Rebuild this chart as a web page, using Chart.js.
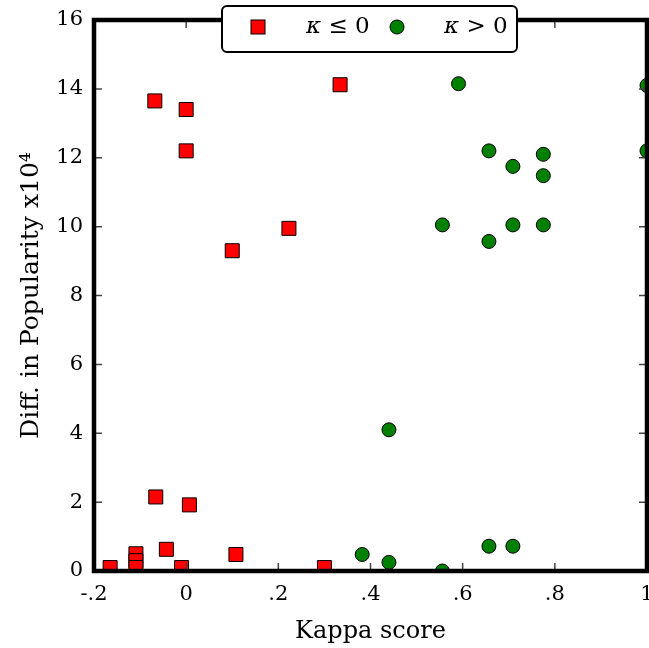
<!DOCTYPE html>
<html>
<head>
<meta charset="utf-8">
<script src="https://cdn.jsdelivr.net/npm/chart.js@4.4.1/dist/chart.umd.min.js"></script>
<style>
  html, body { margin: 0; padding: 0; background: #fff; }
  #wrap { width: 649px; height: 648px; }
</style>
</head>
<body>
<div id="wrap"><canvas id="myChart" width="649" height="648"></canvas></div>
<script>
// kappa <= 0 group (red squares)
const lowKappa = [-0.068, 0.0, 0.0, 0.334, 0.1, 0.223, -0.066, 0.007, -0.165, -0.109, -0.109, -0.109, -0.043, -0.01, 0.108, 0.30];
const lowDiff = [13.65, 13.4, 12.2, 14.12, 9.3, 9.95, 2.15, 1.92, 0.1, 0.5, 0.3, 0.1, 0.63, 0.1, 0.48, 0.1];

// kappa > 0 group (green circles)
const highKappa = [0.591, 1.0, 0.657, 0.709, 0.775, 0.775, 1.0, 0.556, 0.709, 0.775, 0.657, 0.44, 0.382, 0.44, 0.556, 0.657, 0.709];
const highDiff = [14.15, 14.1, 12.2, 11.75, 12.1, 11.48, 12.2, 10.05, 10.05, 10.05, 9.57, 4.1, 0.48, 0.25, 0.0, 0.72, 0.72];

const xTickLabels = ["-.2", "0", ".2", ".4", ".6", ".8", "1"];
const yTickLabels = ["0", "2", "4", "6", "8", "10", "12", "14", "16"];

function toPoints(xs, ys) {
  return xs.map((x, i) => ({ x: x, y: ys[i] }));
}

const serif = "'DejaVu Serif', 'Liberation Serif', serif";

// spines + inward tick marks, drawn over the points like matplotlib
const framePlugin = {
  id: "frame",
  afterDatasetsDraw(chart) {
    const ctx = chart.ctx;
    const a = chart.chartArea;
    const xs = chart.scales.x;
    const ys = chart.scales.y;
    ctx.save();
    ctx.strokeStyle = "#444";
    ctx.lineWidth = 1.5;
    ctx.beginPath();
    xs.ticks.forEach((t) => {
      const px = xs.getPixelForValue(t.value);
      ctx.moveTo(px, a.bottom);
      ctx.lineTo(px, a.bottom - 8);
      ctx.moveTo(px, a.top);
      ctx.lineTo(px, a.top + 8);
    });
    ys.ticks.forEach((t) => {
      const py = ys.getPixelForValue(t.value);
      ctx.moveTo(a.left, py);
      ctx.lineTo(a.left + 8, py);
      ctx.moveTo(a.right, py);
      ctx.lineTo(a.right - 8, py);
    });
    ctx.stroke();
    ctx.strokeStyle = "#000";
    ctx.lineWidth = 4.5;
    ctx.strokeRect(a.left, a.top, a.right - a.left, a.bottom - a.top);
    ctx.restore();
  },
  afterDraw(chart) {
    // legend box sitting over the top spine
    const ctx = chart.ctx;
    const ds = chart.data.datasets;
    const bx = 222, by = 6, bw = 295, bh = 46;
    ctx.save();
    ctx.fillStyle = "#fff";
    ctx.strokeStyle = "#000";
    ctx.lineWidth = 2;
    ctx.beginPath();
    ctx.roundRect(bx, by, bw, bh, 5);
    ctx.fill();
    ctx.stroke();
    ctx.textBaseline = "middle";
    const cy = 27;
    const drawLabel = (text, x) => {
      // kappa in math italic, the rest upright
      ctx.fillStyle = "#000";
      ctx.font = "italic 23px " + serif;
      ctx.fillText(text[0], x, cy);
      const w = ctx.measureText(text[0]).width;
      ctx.font = "23px " + serif;
      ctx.fillText(text.slice(1), x + w, cy);
    };
    // item 1: square
    ctx.fillStyle = ds[0].backgroundColor;
    ctx.fillRect(251, cy - 7, 14, 14);
    ctx.lineWidth = 1;
    ctx.strokeRect(251, cy - 7, 14, 14);
    drawLabel(ds[0].label, 306);
    // item 2: circle
    ctx.fillStyle = ds[1].backgroundColor;
    ctx.beginPath();
    ctx.arc(397, cy, 7, 0, Math.PI * 2);
    ctx.fill();
    ctx.stroke();
    drawLabel(ds[1].label, 444);
    ctx.restore();
  },
};

const ctx = document.getElementById("myChart").getContext("2d");

new Chart(ctx, {
  type: "scatter",
  data: {
    datasets: [
      {
        label: "κ ≤ 0",
        data: toPoints(lowKappa, lowDiff),
        pointStyle: "rect",
        pointRadius: 9.9,
        pointHoverRadius: 9.9,
        backgroundColor: "#ff0000",
        borderColor: "#000",
        borderWidth: 1,
        clip: 0,
      },
      {
        label: "κ > 0",
        data: toPoints(highKappa, highDiff),
        pointStyle: "circle",
        pointRadius: 7,
        pointHoverRadius: 7,
        backgroundColor: "#008000",
        borderColor: "#000",
        borderWidth: 1,
        clip: 0,
      },
    ],
  },
  options: {
    responsive: false,
    animation: false,
    layout: { autoPadding: false, padding: { top: 20, right: 2, bottom: 2, left: 4 } },
    plugins: {
      legend: { display: false },
      tooltip: { enabled: false },
    },
    scales: {
      x: {
        type: "linear",
        min: -0.2,
        max: 1,
        grid: { display: false, drawTicks: false },
        border: { display: false },
        ticks: {
          stepSize: 0.2,
          padding: 11,
          color: "#000",
          font: { family: serif, size: 21 },
          callback: (v, i) => xTickLabels[i],
        },
        title: {
          display: true,
          text: "Kappa score",
          color: "#000",
          font: { family: serif, size: 24 },
          padding: { top: 0, bottom: 0 },
        },
        afterFit: (s) => {
          s.paddingLeft = 0;
          s.paddingRight = 0;
          s.height = 75;
        },
      },
      y: {
        type: "linear",
        min: 0,
        max: 16,
        grid: { display: false, drawTicks: false },
        border: { display: false },
        ticks: {
          stepSize: 2,
          padding: 11,
          color: "#000",
          font: { family: serif, size: 21 },
          callback: (v, i) => yTickLabels[i],
        },
        title: {
          display: true,
          text: "Diff. in Popularity x10⁴",
          color: "#000",
          font: { family: serif, size: 25 },
          padding: { top: 12, bottom: 0 },
        },
        afterFit: (s) => {
          s.paddingTop = 0;
          s.paddingBottom = 0;
          s.width = 90;
        },
      },
    },
  },
  plugins: [framePlugin],
});
</script>
</body>
</html>
